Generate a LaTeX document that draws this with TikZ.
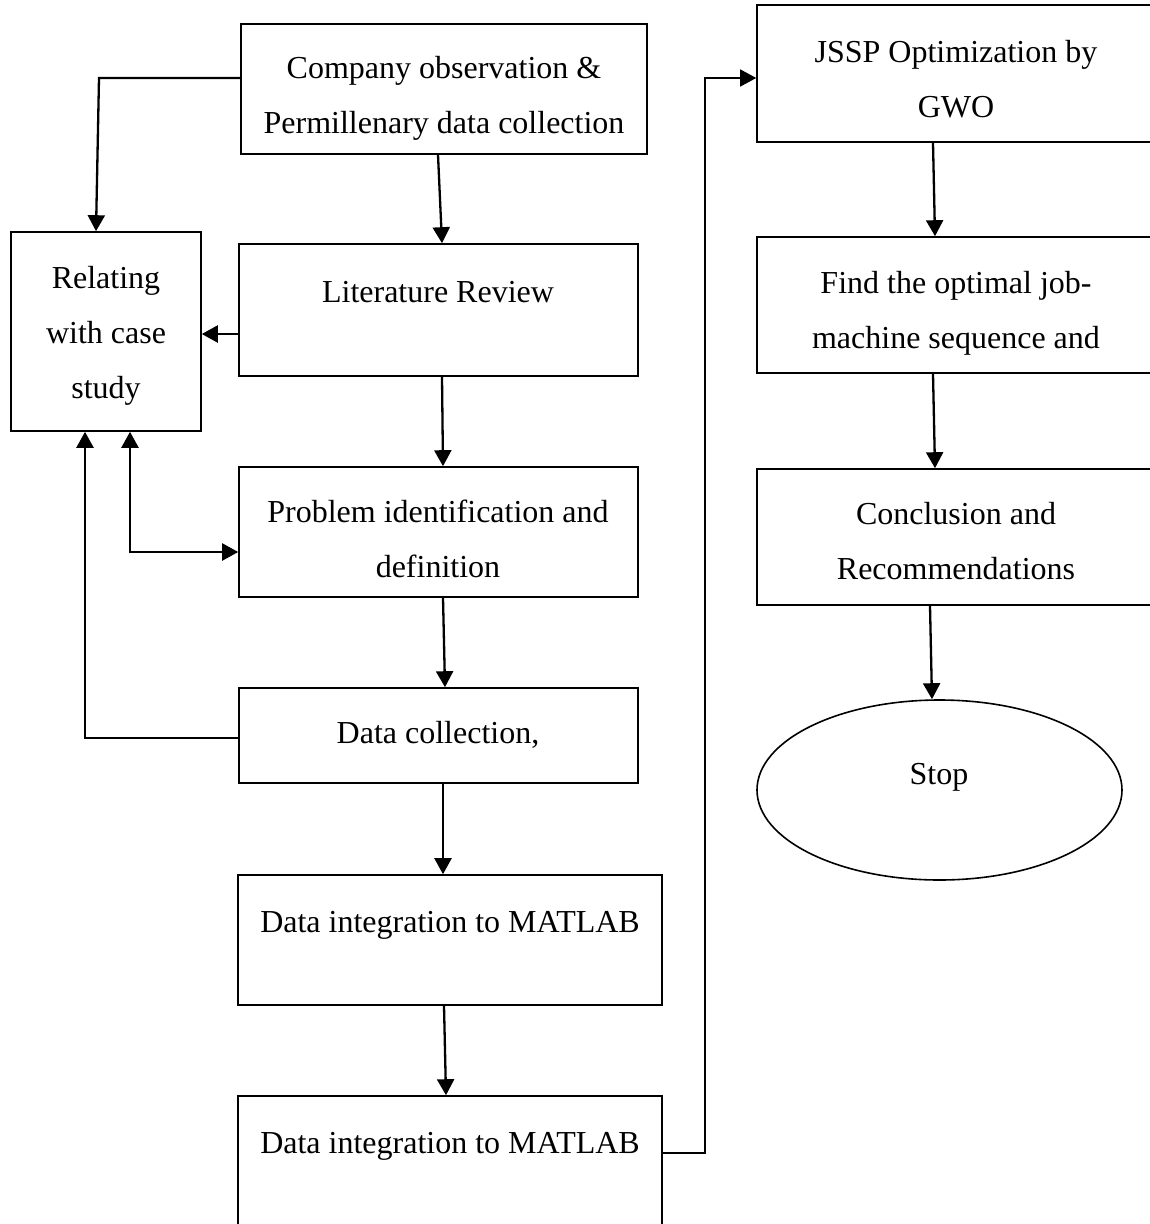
\documentclass[tikz,border=0pt]{standalone}
\usepackage{fontspec}
\setmainfont{Liberation Serif}
\usetikzlibrary{arrows.meta,shapes.geometric}

\tikzset{
  box/.style={draw, line width=1.6pt, rectangle, inner sep=0pt},
  oval/.style={draw, line width=1.6pt, ellipse, inner sep=0pt},
  txt/.style={align=center, inner sep=0pt, font=\fontsize{32}{55}\selectfont},
  tip/.tip={Triangle[length=16pt,width=17pt]},
  arr/.style={line width=2.3pt, -tip},
  arrboth/.style={line width=2.3pt, tip-tip},
  link/.style={line width=1.5pt, -tip}
}

\begin{document}
\begin{tikzpicture}[x=1pt, y=-1pt]
\useasboundingbox (0,0) rectangle (1150,1224);

% left column boxes
\node[box, minimum width=406pt, minimum height=130pt] (comp) at (444,89) {};
\node[box, minimum width=190pt, minimum height=199pt] (rel)  at (106,331.5) {};
\node[box, minimum width=399pt, minimum height=132pt] (lit)  at (438.5,310) {};
\node[box, minimum width=399pt, minimum height=130pt] (prob) at (438.5,532) {};
\node[box, minimum width=399pt, minimum height=95pt]  (dc)   at (438.5,735.5) {};
\node[box, minimum width=424pt, minimum height=130pt] (dia)  at (450,940) {};
\node[box, minimum width=424pt, minimum height=150pt] (dib)  at (450,1171) {};

% right column boxes
\node[box, minimum width=397pt, minimum height=137pt] (jssp)  at (955.5,73.5) {};
\node[box, minimum width=397pt, minimum height=136pt] (find)  at (955.5,305) {};
\node[box, minimum width=397pt, minimum height=136pt] (concl) at (955.5,537) {};
\node[oval, minimum width=365pt, minimum height=180pt] (stop) at (939.5,790) {};

% labels
\node[txt] (comp-t)  at (444,95)    {\strut Company observation \&\\\strut Permillenary data collection};
\node[txt] (rel-t)   at (106,332)   {\strut Relating\\\strut with case\\\strut study};
\node[txt] (lit-t)   at (438,291)   {\strut Literature Review};
\node[txt] (prob-t)  at (438,539)   {\strut Problem identification and\\\strut definition};
\node[txt] (dc-t)    at (438,732)   {\strut Data collection,};
\node[txt] (dia-t)   at (450,921)   {\strut Data integration to MATLAB};
\node[txt] (dib-t)   at (450,1142)  {\strut Data integration to MATLAB};
\node[txt] (jssp-t)  at (956,79)    {\strut JSSP Optimization by\\\strut GWO};
\node[txt] (find-t)  at (956,310)   {\strut Find the optimal job-\\\strut machine sequence and};
\node[txt] (concl-t) at (956,541)   {\strut Conclusion and\\\strut Recommendations};
\node[txt] (stop-t)  at (939,773)   {\strut Stop};

% connectors, left column
\draw[arr] (comp.west |- 0,78) -- (99,78) -- (rel.north -| 96,0);
\draw[arr] (comp.south -| 438,0) -- (lit.north -| 442,0);
\draw[arr] (lit.west |- 0,334) -- (rel.east |- 0,334);
\draw[arr] (lit.south -| 442,0) -- (prob.north -| 443,0);
\draw[arrboth] (rel.south -| 130,0) |- (prob.west |- 0,552);
\draw[arr] (dc.west |- 0,738) -| (rel.south -| 85,0);
\draw[arr] (prob.south -| 443,0) -- (dc.north -| 445,0);
\draw[arr] (dc.south -| 443,0) -- (dia.north -| 443,0);
\draw[arr] (dia.south -| 444,0) -- (dib.north -| 446,0);

% link to the second column
\draw[link] (dib.east |- 0,1153) -- (705,1153) -- (705,78) -- (jssp.west |- 0,78);

% connectors, right column
\draw[arr] (jssp.south -| 933,0) -- (find.north -| 935,0);
\draw[arr] (find.south -| 933,0) -- (concl.north -| 935,0);
\draw[arr] (concl.south -| 930,0) -- (stop.north -| 932,0);
\end{tikzpicture}
\end{document}
